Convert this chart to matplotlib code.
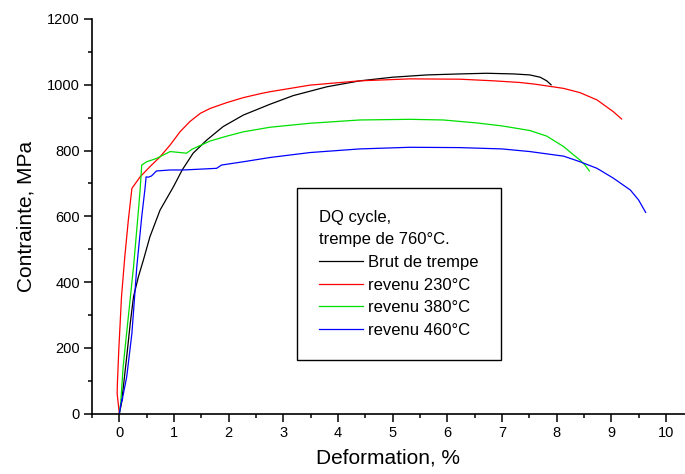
import matplotlib
matplotlib.use("Agg")
import matplotlib.pyplot as plt
from matplotlib.ticker import MultipleLocator

plt.rcParams['font.family'] = ['Liberation Sans', 'DejaVu Sans']

# --- data ---
brut_x = [0.0, 0.04, 0.135, 0.2, 0.26, 0.35, 0.44, 0.56, 0.745, 0.99, 1.15, 1.35, 1.6, 1.9, 2.27, 2.76, 3.18, 3.8, 4.4, 5.0, 5.63, 6.23, 6.72, 7.21, 7.51, 7.7, 7.82, 7.9]
brut_y = [0, 32, 173, 275, 356, 417, 467, 538, 619, 690, 741, 792, 832, 873, 908, 941, 967, 994, 1012, 1023, 1030, 1033, 1035, 1033, 1030, 1023, 1012, 1000]

r230_x = [0.0, -0.04, -0.035, -0.01, 0.04, 0.10, 0.165, 0.23, 0.38, 0.56, 0.745, 0.93, 1.11, 1.29, 1.48, 1.66, 1.97, 2.27, 2.58, 2.76, 3.49, 4.4, 5.32, 6.23, 6.85, 7.33, 7.6, 8.13, 8.43, 8.74, 9.04, 9.19]
r230_y = [0, 62, 93, 194, 356, 477, 589, 685, 720, 751, 781, 817, 857, 888, 913, 928, 946, 961, 973, 979, 999, 1012, 1018, 1017, 1012, 1007, 1002, 989, 976, 954, 918, 896]

r380_x = [0.0, 0.025, 0.07, 0.165, 0.26, 0.35, 0.38, 0.41, 0.5, 0.68, 0.93, 1.11, 1.23, 1.33, 1.66, 1.97, 2.27, 2.76, 3.49, 4.4, 5.32, 5.93, 6.54, 7.0, 7.51, 7.82, 8.13, 8.31, 8.43, 8.52, 8.6]
r380_y = [0, 32, 143, 295, 447, 619, 680, 756, 766, 776, 797, 794, 792, 804, 829, 844, 857, 871, 883, 893, 895, 893, 884, 875, 861, 844, 812, 787, 771, 756, 738]

r460_x = [0.0, 0.03, 0.06, 0.05, 0.135, 0.23, 0.32, 0.41, 0.47, 0.49, 0.53, 0.59, 0.68, 0.93, 1.17, 1.42, 1.78, 1.87, 2.27, 2.76, 3.49, 4.4, 5.32, 6.23, 7.0, 7.51, 8.13, 8.43, 8.74, 9.04, 9.35, 9.5, 9.63]
r460_y = [0, 30, 46, 40, 112, 244, 447, 599, 685, 720, 719, 723, 738, 741, 741, 743, 746, 756, 766, 779, 794, 805, 810, 809, 805, 797, 783, 766, 746, 716, 680, 650, 612]

labels = ["Brut de trempe", "revenu 230°C", "revenu 380°C", "revenu 460°C"]
colors = ["black", "#ff0000", "#00e000", "#0000ff"]
legend_title = "DQ cycle,\ntrempe de 760°C."

fig = plt.figure(figsize=(6.85, 4.74), dpi=100)
ax = fig.add_axes([92/685, 1-413.7/474, 1-92/685, (413.7-19)/474])

for xs, ys, lab, c in zip([brut_x, r230_x, r380_x, r460_x],
                          [brut_y, r230_y, r380_y, r460_y], labels, colors):
    ax.plot(xs, ys, color=c, lw=0.9, label=lab)

ax.set_xlim(-0.5, 10.35)
ax.set_ylim(0, 1200)
ax.xaxis.set_major_locator(MultipleLocator(1))
ax.xaxis.set_minor_locator(MultipleLocator(0.5))
ax.yaxis.set_major_locator(MultipleLocator(200))
ax.yaxis.set_minor_locator(MultipleLocator(100))
for s in ['top', 'right']:
    ax.spines[s].set_visible(False)
for s in ['left', 'bottom']:
    ax.spines[s].set_linewidth(1.2)
ax.tick_params(which='major', direction='out', length=5.8, width=1.1, labelsize=10.5, pad=3)
ax.tick_params(which='minor', direction='out', length=2.9, width=1.1)
ax.set_xlabel("Deformation, %", fontsize=15, labelpad=6)
ax.set_ylabel("Contrainte, MPa", fontsize=15, labelpad=8)

leg = ax.legend(title=legend_title, loc='upper left',
                bbox_to_anchor=(297/685, 1-188/474), bbox_transform=fig.transFigure,
                borderaxespad=0, fancybox=False, edgecolor='black', framealpha=1,
                fontsize=12, title_fontsize=12, alignment='left',
                handlelength=2.65, handletextpad=0.3, labelspacing=0.46,
                borderpad=1.32)
leg.get_frame().set_linewidth(1.0)
leg.get_title().set_linespacing(1.6)

fig.savefig("out.png", dpi=100)
